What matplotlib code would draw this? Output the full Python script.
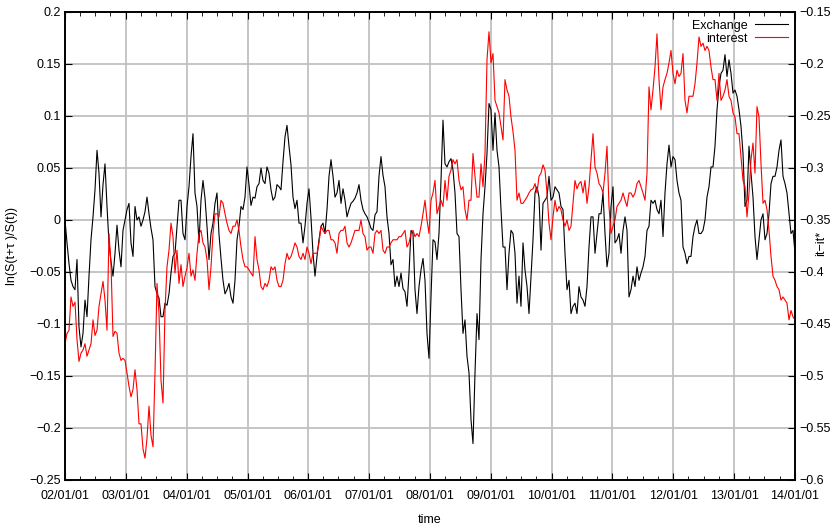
import matplotlib
matplotlib.use("Agg")
import matplotlib.pyplot as plt
import matplotlib.dates as mdates
from matplotlib.ticker import FixedLocator, FuncFormatter
import pandas as pd

plt.rcParams['font.family'] = ['Liberation Sans', 'DejaVu Sans']

# values, one every ~12 days from 2002-01-01 to 2014-01-01
# exchange: ln(S(t+tau)/S(t)), in thousandths
exchange = [
    0, -22, -42, -58, -64, -67, -38, -103, -122, -109,
    -77, -93, -54, -19, 3, 29, 67, 45, 3, 34,
    54, 13, -22, -40, -54, -32, -5, -29, -45, -10,
    0, 10, 16, -22, -35, 13, 0, 3, -6, 0,
    8, 22, 6, -8, -19, -64, -71, -75, -93, -93,
    -80, -82, -71, -51, -35, -32, -6, 19, 19, -13,
    -19, 13, 32, 61, 83, 26, 13, -22, 19, 38,
    21, -6, -38, -13, -3, 16, 26, -14, -37, -58,
    -71, -67, -61, -74, -80, -58, -19, -6, 13, 10,
    22, 51, 34, 14, 22, 21, 32, 35, 50, 38,
    35, 51, 45, 29, 19, 22, 34, 32, 29, 56,
    80, 91, 71, 53, 22, 11, 19, -3, -3, -22,
    -6, 16, 30, 2, -32, -54, -35, -19, -6, -3,
    -13, 10, 42, 58, 42, 22, 26, 38, 16, 30,
    19, 3, 10, 16, 18, 21, 26, 34, 19, 10,
    6, 3, -2, -8, -10, 5, 8, 42, 61, 43,
    32, 3, -13, -43, -38, -64, -54, -64, -51, -66,
    -69, -83, -51, -10, -13, -67, -90, -64, -48, -37,
    -58, -109, -133, -74, -19, -21, -38, -13, 38, 96,
    54, 51, 56, 59, 48, 26, -13, -16, -67, -109,
    -96, -131, -147, -192, -215, -147, -90, -115, -38, 6,
    32, 64, 112, 106, 67, 103, 67, 51, 10, -26,
    -26, -67, -32, -10, -13, -32, -80, -54, -83, -22,
    -48, -64, -90, -54, -19, 26, 32, 22, -29, 16,
    19, 22, 42, 19, 22, 32, 29, 26, 13, 10,
    -32, -67, -58, -90, -83, -80, -90, -64, -74, -77,
    -83, -64, -26, 3, 3, -32, -13, 6, 6, 26,
    -13, -45, -32, 13, 32, -22, -19, -13, -32, -10,
    3, -10, -74, -67, -54, -64, -45, -58, -51, -45,
    -35, -10, -6, 19, 16, 19, 10, 6, 19, -16,
    26, 54, 72, 51, 61, 58, 38, 26, 19, -26,
    -32, -42, -35, -35, -16, -6, 0, -13, -13, -10,
    0, 22, 32, 51, 51, 71, 106, 128, 141, 144,
    159, 138, 154, 141, 122, 125, 119, 106, 90, 64,
    13, 19, 71, 45, 22, -16, -38, -19, 0, 6,
    -19, -13, 6, 35, 42, 42, 51, 67, 77, 42,
    35, 26, 6, -13, -10, -32,
]

# interest: it - it*, in thousandths
interest = [
    -469, -459, -456, -424, -433, -429, -465, -486, -478, -475,
    -469, -481, -475, -469, -446, -461, -456, -433, -421, -409,
    -427, -456, -363, -392, -462, -457, -459, -478, -485, -483,
    -485, -497, -510, -520, -513, -494, -513, -546, -546, -570,
    -579, -560, -529, -557, -568, -497, -411, -440, -504, -526,
    -437, -395, -379, -353, -366, -401, -379, -411, -393, -414,
    -404, -396, -382, -404, -398, -408, -382, -363, -360, -372,
    -376, -388, -417, -395, -363, -344, -344, -347, -331, -334,
    -344, -353, -360, -363, -356, -356, -350, -360, -376, -388,
    -395, -395, -398, -401, -404, -366, -388, -398, -414, -417,
    -411, -414, -408, -395, -398, -395, -408, -414, -414, -408,
    -392, -382, -388, -385, -379, -372, -376, -385, -388, -382,
    -388, -376, -382, -392, -382, -382, -382, -372, -356, -360,
    -363, -360, -360, -369, -369, -372, -382, -363, -360, -360,
    -356, -372, -376, -372, -366, -360, -360, -360, -350, -363,
    -366, -379, -376, -376, -382, -363, -360, -363, -360, -379,
    -382, -376, -376, -372, -369, -369, -369, -366, -366, -363,
    -360, -376, -372, -363, -360, -366, -363, -366, -356, -344,
    -331, -350, -363, -331, -324, -312, -344, -337, -331, -337,
    -312, -331, -308, -302, -292, -296, -292, -312, -321, -318,
    -340, -350, -331, -331, -286, -308, -328, -328, -296, -318,
    -286, -196, -169, -199, -190, -235, -241, -247, -260, -273,
    -215, -225, -231, -251, -265, -283, -331, -324, -334, -334,
    -331, -328, -324, -321, -320, -315, -324, -308, -305, -297,
    -302, -324, -353, -369, -347, -331, -342, -337, -340, -350,
    -356, -350, -360, -356, -334, -312, -320, -315, -313, -324,
    -312, -334, -318, -292, -267, -299, -305, -315, -318, -324,
    -305, -279, -337, -363, -356, -350, -337, -334, -331, -324,
    -331, -337, -324, -324, -328, -324, -315, -312, -318, -324,
    -331, -305, -222, -244, -225, -203, -171, -215, -244, -222,
    -215, -209, -199, -187, -209, -219, -206, -212, -209, -190,
    -235, -247, -231, -231, -231, -219, -199, -174, -183, -180,
    -187, -183, -187, -203, -215, -215, -235, -209, -235, -231,
    -225, -215, -231, -235, -247, -251, -267, -267, -289, -312,
    -318, -347, -324, -292, -276, -305, -241, -251, -296, -334,
    -331, -340, -360, -385, -404, -408, -414, -417, -427, -424,
    -427, -430, -446, -437, -443, -446,
]

dates = pd.date_range('2002-01-01', '2014-01-01', periods=len(exchange))
exch = [v / 1000 for v in exchange]
intr = [v / 1000 for v in interest]

left_ticks = [-0.25, -0.2, -0.15, -0.1, -0.05, 0, 0.05, 0.1, 0.15, 0.2]
right_ticks = [-0.6, -0.55, -0.5, -0.45, -0.4, -0.35, -0.3, -0.25, -0.2, -0.15]


def fmt(v, pos):
    return ('%g' % round(v, 3)).replace('-', '\u2212')


fs = 9
fig = plt.figure(figsize=(8.31, 5.29), dpi=100)
ax = fig.add_axes([65 / 831, 49 / 529, 730 / 831, 468 / 529])
ax2 = ax.twinx()

ax.plot(dates, exch, color='black', lw=0.8, label='Exchange')
ax2.plot(dates, intr, color='red', lw=0.8, label='interest')

ax.set_xlim(pd.Timestamp('2002-01-01'), pd.Timestamp('2014-01-01'))
ax.set_ylim(-0.25, 0.2)
ax2.set_ylim(-0.6, -0.15)

ax.yaxis.set_major_locator(FixedLocator(left_ticks))
ax.yaxis.set_major_formatter(FuncFormatter(fmt))
ax2.yaxis.set_major_locator(FixedLocator(right_ticks))
ax2.yaxis.set_major_formatter(FuncFormatter(fmt))

ax.xaxis.set_major_locator(mdates.YearLocator())
ax.xaxis.set_minor_locator(mdates.MonthLocator(bymonth=[4, 7, 10]))
ax.xaxis.set_major_formatter(mdates.DateFormatter('%y/%m/%d'))

ax.grid(True, which='major', color='#c0c0c0', lw=1.3)
ax.set_axisbelow(True)

ax.tick_params(axis='x', which='both', direction='in', top=True, labelsize=fs, pad=7)
ax.tick_params(axis='x', which='major', length=5)
ax.tick_params(axis='x', which='minor', length=3)
ax.tick_params(axis='y', direction='in', right=False, length=5, labelsize=fs, pad=3)
ax2.tick_params(axis='y', direction='in', length=5, labelsize=fs, pad=3)

for a in (ax, ax2):
    for s in a.spines.values():
        s.set_linewidth(1.2)

ax.set_xlabel('time', fontsize=fs, labelpad=9)
ax.set_ylabel('ln(S(t+\u03c4 )/S(t))', fontsize=fs, labelpad=8)
ax2.set_ylabel('it\u2212it*', fontsize=fs)
ax2.yaxis.set_label_coords(1.027, 0.506)

h1, l1 = ax.get_legend_handles_labels()
h2, l2 = ax2.get_legend_handles_labels()
ax2.legend(h1 + h2, l1 + l2, loc='upper right', frameon=False, markerfirst=False,
           fontsize=fs, handlelength=2.6, handletextpad=0.6, labelspacing=0.1,
           borderaxespad=0.2, bbox_to_anchor=(1.0, 1.0))

fig.savefig('out.png', dpi=100)
